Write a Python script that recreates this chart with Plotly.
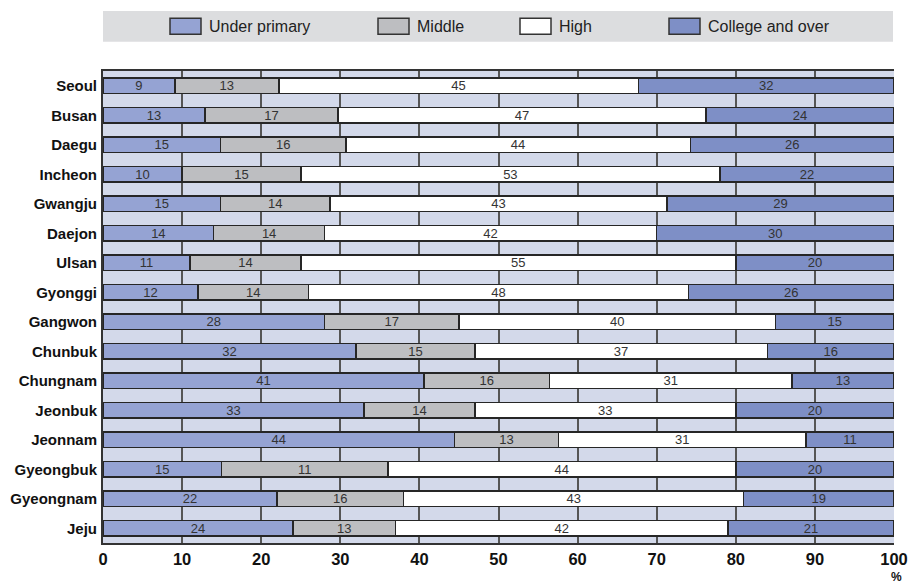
import plotly.graph_objects as go

regions = ["Seoul", "Busan", "Daegu", "Incheon", "Gwangju", "Daejon", "Ulsan", "Gyonggi",
           "Gangwon", "Chunbuk", "Chungnam", "Jeonbuk", "Jeonnam", "Gyeongbuk", "Gyeongnam", "Jeju"]

# bar sizes (shares, normalised to 100 %)
under_primary = [9, 13, 15, 10, 15, 14, 11, 12, 28, 32, 41, 33, 44, 15, 22, 24]
middle = [13, 17, 16, 15, 14, 14, 14, 14, 17, 15, 16, 14, 13, 21, 16, 13]
high = [45, 47, 44, 53, 43, 42, 55, 48, 40, 37, 31, 33, 31, 44, 43, 42]
college = [32, 24, 26, 22, 29, 30, 20, 26, 15, 16, 13, 20, 11, 20, 19, 21]

# printed labels (the source prints 11 for Gyeongbuk "Middle")
middle_labels = [13, 17, 16, 15, 14, 14, 14, 14, 17, 15, 16, 14, 13, 11, 16, 13]

series_names = ["Under primary", "Middle", "High", "College and over"]
x_ticks = [0, 10, 20, 30, 40, 50, 60, 70, 80, 90, 100]

colors = ["#95a3d3", "#bdbec1", "#ffffff", "#7e8fc6"]
series_vals = [under_primary, middle, high, college]
series_text = [under_primary, middle_labels, high, college]

fig = go.Figure()
for name, vals, txt, col in zip(series_names, series_vals, series_text, colors):
    fig.add_trace(go.Bar(
        y=regions, x=vals, name=name, orientation="h",
        text=txt, texttemplate="%{text}", textposition="inside",
        insidetextanchor="middle", textangle=0, constraintext="none",
        textfont=dict(family="Arial, Liberation Sans", size=13, color="#333333"),
        marker=dict(color=col, line=dict(color="#262626", width=1.5)),
        showlegend=False,
    ))

W_PLOT = 791.0
def px2paper_x(px):
    return (px - 103) / W_PLOT
def px2paper_y(py):
    return 1 + (71 - py) / 472.0

shapes = [dict(type="rect", xref="paper", yref="paper",
               x0=0, x1=px2paper_x(893), y0=px2paper_y(41.7), y1=px2paper_y(11),
               fillcolor="#dcdddf", line=dict(width=0), layer="above")]
annotations = []
sw_left = [170, 378, 520, 669]
for name, col, left in zip(series_names, colors, sw_left):
    shapes.append(dict(type="rect", xref="paper", yref="paper",
                       x0=px2paper_x(left), x1=px2paper_x(left + 31),
                       y0=px2paper_y(34.3), y1=px2paper_y(18.3),
                       fillcolor=col, line=dict(color="#333333", width=1.5), layer="above"))
    annotations.append(dict(text=name, xref="paper", yref="paper",
                            x=px2paper_x(left + 37), y=px2paper_y(26.8),
                            xanchor="left", yanchor="middle", showarrow=False,
                            font=dict(family="Arial, Liberation Sans", size=16, color="#222222")))

annotations.append(dict(text="%", xref="x", yref="paper", x=100, y=0,
                        yshift=-34, xshift=2, xanchor="center", yanchor="middle", showarrow=False,
                        borderpad=0,
                        font=dict(family="Liberation Sans Narrow, Arial Narrow, Arial", size=12,
                                  color="#111111", weight="bold")))

fig.update_layout(
    barmode="stack", barnorm="percent", bargap=0.49,
    width=909, height=585,
    margin=dict(l=103, r=15, t=71, b=42),
    paper_bgcolor="white", plot_bgcolor="#d3d9ea",
    shapes=shapes, annotations=annotations,
    xaxis=dict(range=[0, 100], tickvals=x_ticks, ticktext=[str(v) for v in x_ticks],
               showgrid=True, gridcolor="#555555", gridwidth=1.5,
               showline=True, linecolor="#333333", linewidth=2, mirror=True,
               zeroline=False, ticks="", ticklabeloverflow="allow", automargin=False,
               ticklabelstandoff=0,
               tickfont=dict(family="Liberation Sans Narrow, Arial Narrow, Arial", size=16.5,
                             color="#111111", weight="bold"),
               fixedrange=True),
    yaxis=dict(autorange="reversed", showline=True, linecolor="#333333", linewidth=2,
               showgrid=False, zeroline=False, ticks="", ticklabelstandoff=1, automargin=False,
               tickfont=dict(family="Arial, Liberation Sans", size=15, color="#111111",
                             weight="bold"),
               fixedrange=True),
    font=dict(family="Arial, Liberation Sans"),
)

fig.write_html("out.html", config={"displayModeBar": False},
               post_script="document.body.style.margin='0px';document.body.style.overflow='hidden';")
